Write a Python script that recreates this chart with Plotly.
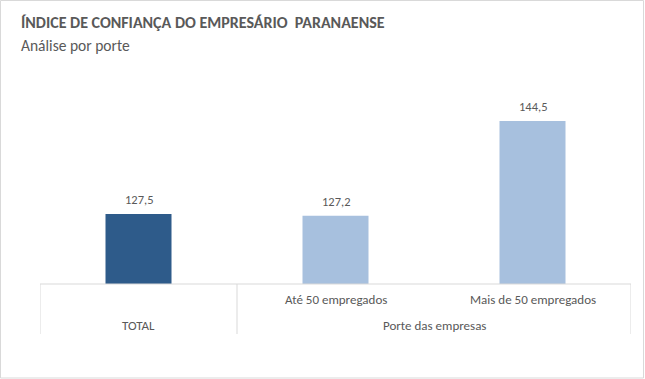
import plotly.graph_objects as go

categories = ["TOTAL", "Até 50 empregados", "Mais de 50 empregados"]
inner_labels = ["", "Até 50 empregados", "Mais de 50 empregados"]
group_labels = ["TOTAL", "Porte das empresas"]
group_members = [["TOTAL"], ["Até 50 empregados", "Mais de 50 empregados"]]
values = [127.5, 127.2, 144.5]
bar_colors = ["#2E5B8A", "#A7C0DE", "#A7C0DE"]
value_text = [f"{v:.1f}".replace(".", ",") for v in values]

FONT = "Calibri, Carlito, Lato, sans-serif"
GRAY = "#595959"
LINE = "#D9D9D9"
PW, PH = 591, 199  # plot area size in px

fig = go.Figure(go.Bar(
    x=categories, y=values, marker_color=bar_colors, marker_line_width=0,
    hoverinfo="skip",
))

annotations = [
    dict(text="ÍNDICE DE CONFIANÇA DO EMPRESÁRIO  PARANAENSE", xref="paper", yref="paper",
         x=-21/PW, y=(284-22)/PH, xanchor="left", yanchor="middle", showarrow=False,
         font=dict(family=FONT, size=16, color=GRAY, weight="bold")),
    dict(text="Análise por porte", xref="paper", yref="paper",
         x=-21/PW, y=(284-45)/PH, xanchor="left", yanchor="middle", showarrow=False,
         font=dict(family=FONT, size=15.5, color=GRAY)),
]
for c, v, t in zip(categories, values, value_text):
    annotations.append(dict(text=t, x=c, y=v, xref="x", yref="y", yanchor="bottom",
                            yshift=5, showarrow=False,
                            font=dict(family=FONT, size=12.5, color=GRAY)))
for c, lab in zip(categories, inner_labels):
    if lab:
        annotations.append(dict(text=lab, x=c, xref="x", yref="paper", y=-15/PH,
                                yanchor="middle", showarrow=False,
                                font=dict(family=FONT, size=13, color=GRAY)))
idx = {c: i for i, c in enumerate(categories)}
for g, mem in zip(group_labels, group_members):
    center = sum(idx[m] for m in mem) / len(mem)
    annotations.append(dict(text=g, x=center, xref="x", yref="paper", y=-41/PH,
                            yanchor="middle", showarrow=False,
                            font=dict(family=FONT, size=13, color=GRAY)))

shapes = [
    dict(type="line", xref="paper", yref="paper", x0=0, x1=1, y0=0, y1=0, line=dict(color=LINE, width=1)),
]
bounds = [-0.5]
for mem in group_members:
    bounds.append(idx[mem[-1]] + 0.5)
for b in bounds:
    shapes.append(dict(type="line", xref="x", yref="paper", x0=b, x1=b, y0=0, y1=-50/PH,
                       line=dict(color=LINE, width=1)))
shapes.append(dict(type="rect", xref="paper", yref="paper",
                   x0=-39.5/PW, x1=(643.5-40)/PW, y0=-(378-284)/PH, y1=(284-0.5)/PH,
                   line=dict(color=LINE, width=1)))

fig.update_layout(
    width=645, height=379,
    margin=dict(l=40, r=14, t=85, b=95),
    paper_bgcolor="white", plot_bgcolor="white",
    bargap=0.665, showlegend=False,
    xaxis=dict(showticklabels=False, showgrid=False, zeroline=False, showline=False,
               range=[-0.5, 2.5], fixedrange=True),
    yaxis=dict(range=[114.7, 151.1], showticklabels=False, showgrid=False, zeroline=False,
               showline=False, fixedrange=True),
    annotations=annotations, shapes=shapes,
    font=dict(family=FONT, color=GRAY),
)

fig.write_html("out.html", config={"displayModeBar": False},
               post_script="document.body.style.margin='0';")
